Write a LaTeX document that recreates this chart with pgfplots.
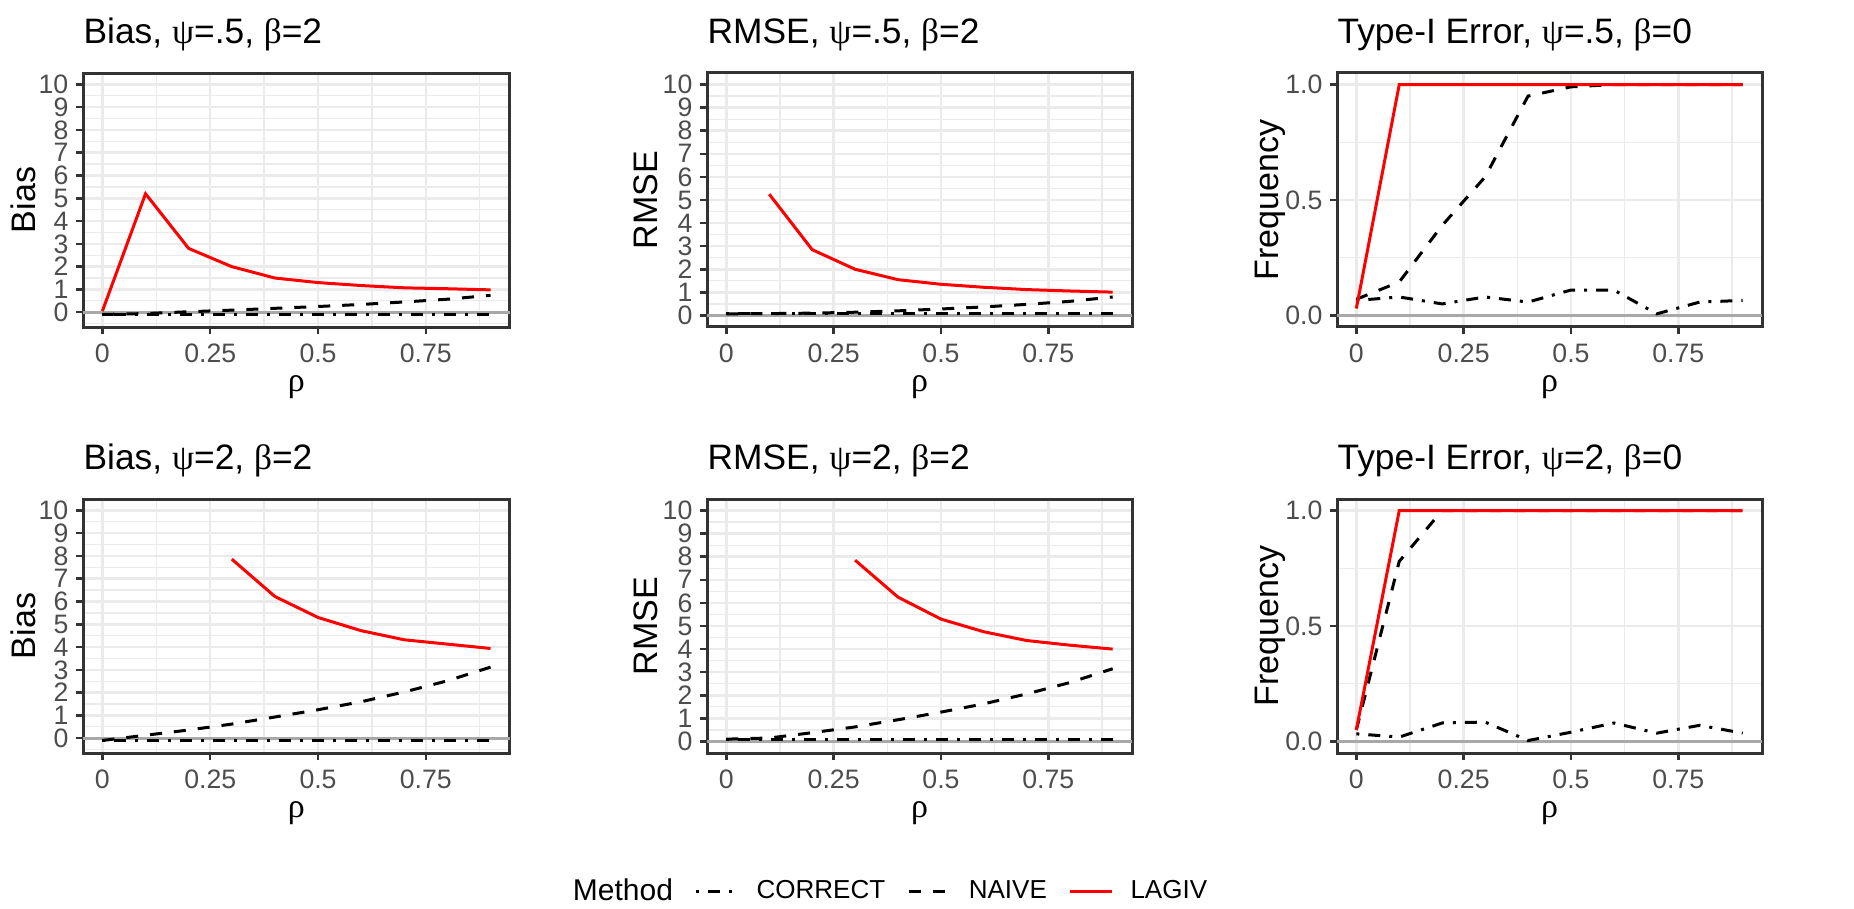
\documentclass[border=0pt]{standalone}
\usepackage{pgfplots}
\pgfplotsset{compat=1.18}
\usepackage{fontspec}
\setmainfont{Liberation Sans}
\newfontfamily\grk{Liberation Serif}
\definecolor{gmaj}{HTML}{EBEBEB}
\definecolor{g20}{HTML}{333333}
\definecolor{g30}{HTML}{4D4D4D}
\definecolor{hl}{HTML}{A8A8A8}
\newcommand{\gpsi}{{\grk ψ}}
\newcommand{\gbeta}{{\grk β}}

\pgfplotsset{
  every axis title shift=0pt,
  panel/.style={
    scale only axis, height=76.2pt,
    xmin=-0.045, xmax=0.945,
    xtick={0,0.25,0.5,0.75}, xticklabels={0,0.25,0.5,0.75},
    minor xtick={0.125,0.375,0.625,0.875},
    grid=both,
    major grid style={gmaj, line width=0.75pt},
    minor grid style={gmaj, line width=0.4pt},
    axis line style={g20, line width=0.9pt},
    major tick style={g20, line width=0.75pt},
    major tick length=2.1pt, minor tick length=0pt,
    tick align=outside, xtick pos=bottom, ytick pos=left,
    ticklabel style={font=\fontsize{8}{9}\selectfont, text=g30, inner sep=0pt},
    xticklabel style={yshift=-2.8pt},
    yticklabel style={xshift=-2.1pt},
    title style={at={(axis description cs:0,1.118)}, anchor=base west, inner sep=0pt,
      font=\fontsize{10.6}{12}\selectfont},
    label style={font=\fontsize{10.2}{12}\selectfont},
    xlabel={\grk ρ},
    xlabel style={at={(axis description cs:0.5,-0.236)}, anchor=center, inner sep=0pt},
  },
  biasy/.style={ymin=-0.65, ymax=10.5, ytick={0,1,2,3,4,5,6,7,8,9,10},
    yticklabels={0,1,2,3,4,5,6,7,8,9,10}, minor ytick={-0.5,0.5,...,9.5}},
  rmsey/.style={ymin=-0.5, ymax=10.5, ytick={0,1,2,3,4,5,6,7,8,9,10},
    yticklabels={0,1,2,3,4,5,6,7,8,9,10}, minor ytick={0.5,1.5,...,9.5}},
  freqy/.style={ymin=-0.05, ymax=1.05, ytick={0,0.5,1}, yticklabels={0.0,0.5,1.0},
    minor ytick={0.25,0.75}},
  cor/.style={black, line width=0.9pt, dash pattern=on 0.9pt off 2.7pt on 3.6pt off 2.7pt},
  nai/.style={black, line width=0.9pt, dash pattern=on 3.6pt off 3.6pt},
  lag/.style={red, line width=0.9pt},
  hz/.style={hl, line width=0.9pt, forget plot},
}

\begin{document}
\begin{tikzpicture}
\path[use as bounding box] (0pt,0pt) rectangle (556.2pt,-272.7pt);

% row 1
\begin{axis}[panel, biasy, at={(24.9pt,-21.9pt)}, anchor=north west, width=128.1pt,
  title={Bias, \gpsi=.5, \gbeta=2}, ylabel={Bias},
  ylabel style={at={(axis description cs:-0.1405,0.5)}, anchor=center}]
\addplot[hz] coordinates {(-0.045,0) (0.945,0)};
\addplot[cor] coordinates {(0,-0.09) (0.1,-0.09) (0.2,-0.09) (0.3,-0.09) (0.4,-0.09) (0.5,-0.09) (0.6,-0.09) (0.7,-0.09) (0.8,-0.09) (0.9,-0.09)};
\addplot[nai] coordinates {(0,-0.1) (0.1,-0.06) (0.2,0.02) (0.3,0.09) (0.4,0.17) (0.5,0.25) (0.6,0.34) (0.7,0.45) (0.8,0.57) (0.9,0.74)};
\addplot[lag] coordinates {(0,0.05) (0.1,5.2) (0.2,2.8) (0.3,2.0) (0.4,1.5) (0.5,1.3) (0.6,1.17) (0.7,1.07) (0.8,1.03) (0.9,0.98)};
\end{axis}

\begin{axis}[panel, rmsey, at={(212.1pt,-21.9pt)}, anchor=north west, width=127.5pt,
  title={RMSE, \gpsi=.5, \gbeta=2}, ylabel={RMSE},
  ylabel style={at={(axis description cs:-0.1435,0.5)}, anchor=center}]
\addplot[hz] coordinates {(-0.045,0) (0.945,0)};
\addplot[cor] coordinates {(0,0.07) (0.1,0.07) (0.2,0.07) (0.3,0.07) (0.4,0.07) (0.5,0.07) (0.6,0.07) (0.7,0.07) (0.8,0.07) (0.9,0.07)};
\addplot[nai] coordinates {(0,0.07) (0.1,0.08) (0.2,0.1) (0.3,0.14) (0.4,0.2) (0.5,0.28) (0.6,0.37) (0.7,0.48) (0.8,0.61) (0.9,0.8)};
\addplot[lag] coordinates {(0.1,5.25) (0.2,2.85) (0.3,2.0) (0.4,1.55) (0.5,1.35) (0.6,1.22) (0.7,1.12) (0.8,1.06) (0.9,1.01)};
\end{axis}

\begin{axis}[panel, freqy, at={(401.1pt,-21.9pt)}, anchor=north west, width=127.5pt,
  title={Type-I Error, \gpsi=.5, \gbeta=0}, ylabel={Frequency},
  ylabel style={at={(axis description cs:-0.158,0.5)}, anchor=center}]
\addplot[hz] coordinates {(-0.045,0) (0.945,0)};
\addplot[cor] coordinates {(0,0.065) (0.1,0.08) (0.2,0.05) (0.3,0.08) (0.4,0.058) (0.5,0.11) (0.6,0.11) (0.7,0.007) (0.8,0.058) (0.9,0.065)};
\addplot[nai] coordinates {(0,0.07) (0.1,0.145) (0.2,0.39) (0.3,0.6) (0.4,0.95) (0.5,0.99) (0.6,1.0) (0.7,1.0) (0.8,1.0) (0.9,1.0)};
\addplot[lag] coordinates {(0,0.03) (0.1,1.0) (0.2,1.0) (0.3,1.0) (0.4,1.0) (0.5,1.0) (0.6,1.0) (0.7,1.0) (0.8,1.0) (0.9,1.0)};
\end{axis}

% row 2
\begin{axis}[panel, biasy, at={(24.9pt,-149.7pt)}, anchor=north west, width=128.1pt,
  title={Bias, \gpsi=2, \gbeta=2}, ylabel={Bias},
  ylabel style={at={(axis description cs:-0.1405,0.5)}, anchor=center}]
\addplot[hz] coordinates {(-0.045,0) (0.945,0)};
\addplot[cor] coordinates {(0,-0.09) (0.1,-0.09) (0.2,-0.09) (0.3,-0.09) (0.4,-0.09) (0.5,-0.09) (0.6,-0.09) (0.7,-0.09) (0.8,-0.09) (0.9,-0.09)};
\addplot[nai] coordinates {(0,-0.1) (0.1,0.13) (0.2,0.36) (0.3,0.62) (0.4,0.93) (0.5,1.25) (0.6,1.6) (0.7,2.03) (0.8,2.52) (0.9,3.12)};
\addplot[lag] coordinates {(0.3,7.86) (0.4,6.22) (0.5,5.3) (0.6,4.72) (0.7,4.32) (0.8,4.13) (0.9,3.94)};
\end{axis}

\begin{axis}[panel, rmsey, at={(212.1pt,-149.7pt)}, anchor=north west, width=127.5pt,
  title={RMSE, \gpsi=2, \gbeta=2}, ylabel={RMSE},
  ylabel style={at={(axis description cs:-0.1435,0.5)}, anchor=center},
  legend columns=-1,
  legend style={draw=none, fill=none, at={(axis description cs:0.411,-0.547)}, anchor=center,
    font=\fontsize{7.8}{9}\selectfont, nodes={inner sep=0pt},
    /tikz/every odd column/.append style={column sep=5pt},
    /tikz/every even column/.append style={column sep=6.6pt}},
  legend image code/.code={\draw[#1] (0pt,0pt) -- (12.6pt,0pt);}]
\addlegendimage{empty legend}
\addplot[hz] coordinates {(-0.045,0) (0.945,0)};
\addplot[cor] coordinates {(0,0.07) (0.1,0.07) (0.2,0.07) (0.3,0.07) (0.4,0.07) (0.5,0.07) (0.6,0.07) (0.7,0.07) (0.8,0.07) (0.9,0.07)};
\addplot[nai] coordinates {(0,0.1) (0.1,0.15) (0.2,0.38) (0.3,0.63) (0.4,0.94) (0.5,1.27) (0.6,1.63) (0.7,2.06) (0.8,2.55) (0.9,3.15)};
\addplot[lag] coordinates {(0.3,7.85) (0.4,6.25) (0.5,5.3) (0.6,4.75) (0.7,4.37) (0.8,4.17) (0.9,4.0)};
\legend{{\fontsize{9}{10}\selectfont Method},CORRECT,NAIVE,LAGIV}
\end{axis}

\begin{axis}[panel, freqy, at={(401.1pt,-149.7pt)}, anchor=north west, width=127.5pt,
  title={Type-I Error, \gpsi=2, \gbeta=0}, ylabel={Frequency},
  ylabel style={at={(axis description cs:-0.158,0.5)}, anchor=center}]
\addplot[hz] coordinates {(-0.045,0) (0.945,0)};
\addplot[cor] coordinates {(0,0.033) (0.1,0.019) (0.2,0.08) (0.3,0.084) (0.4,0.004) (0.5,0.04) (0.6,0.08) (0.7,0.036) (0.8,0.07) (0.9,0.036)};
\addplot[nai] coordinates {(0,0.05) (0.1,0.78) (0.2,1.0) (0.3,1.0) (0.4,1.0) (0.5,1.0) (0.6,1.0) (0.7,1.0) (0.8,1.0) (0.9,1.0)};
\addplot[lag] coordinates {(0,0.05) (0.1,1.0) (0.2,1.0) (0.3,1.0) (0.4,1.0) (0.5,1.0) (0.6,1.0) (0.7,1.0) (0.8,1.0) (0.9,1.0)};
\end{axis}
\end{tikzpicture}
\end{document}
